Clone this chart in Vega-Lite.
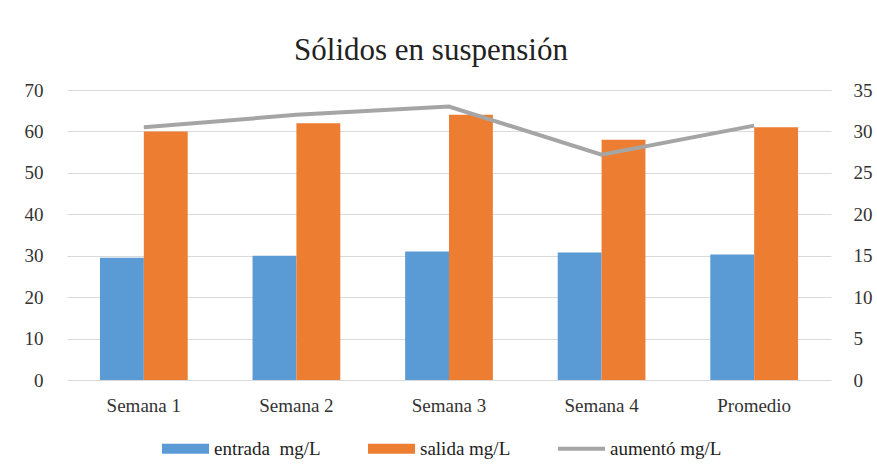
{
  "$schema": "https://vega.github.io/schema/vega-lite/v6.json",
  "autosize": "none",
  "width": 764,
  "height": 290,
  "padding": {"left": 67, "top": 90, "right": 46, "bottom": 96},
  "background": "white",
  "config": {
    "view": {"stroke": null},
    "font": "Liberation Serif",
    "axis": {"labelFont": "Liberation Serif", "labelFontSize": 19, "labelColor": "#333333", "domain": false, "ticks": false, "title": null},
    "legend": {"labelFont": "Liberation Serif", "labelFontSize": 19, "labelColor": "#222222"}
  },
  "title": {
    "text": "Sólidos en suspensión",
    "font": "Liberation Serif",
    "fontSize": 31,
    "fontWeight": "normal",
    "color": "#222222",
    "anchor": "middle",
    "frame": "group",
    "baseline": "alphabetic",
    "offset": 30,
    "dx": -18,
    "dy": 40
  },
  "data": {
    "values": [
      {"semana": "Semana 1", "serie": "entrada\u00a0 mg/L", "valor": 29.5},
      {"semana": "Semana 2", "serie": "entrada\u00a0 mg/L", "valor": 30},
      {"semana": "Semana 3", "serie": "entrada\u00a0 mg/L", "valor": 31},
      {"semana": "Semana 4", "serie": "entrada\u00a0 mg/L", "valor": 30.8},
      {"semana": "Promedio", "serie": "entrada\u00a0 mg/L", "valor": 30.3},
      {"semana": "Semana 1", "serie": "salida mg/L", "valor": 60},
      {"semana": "Semana 2", "serie": "salida mg/L", "valor": 62},
      {"semana": "Semana 3", "serie": "salida mg/L", "valor": 64},
      {"semana": "Semana 4", "serie": "salida mg/L", "valor": 58},
      {"semana": "Promedio", "serie": "salida mg/L", "valor": 61},
      {"semana": "Semana 1", "serie": "aumentó mg/L", "valor": 30.5},
      {"semana": "Semana 2", "serie": "aumentó mg/L", "valor": 32},
      {"semana": "Semana 3", "serie": "aumentó mg/L", "valor": 33},
      {"semana": "Semana 4", "serie": "aumentó mg/L", "valor": 27.2},
      {"semana": "Promedio", "serie": "aumentó mg/L", "valor": 30.7}
    ]
  },
  "layer": [
    {
      "transform": [{"filter": "datum.serie !== 'aumentó mg/L'"}],
      "mark": {"type": "bar"},
      "encoding": {
        "x": {
          "field": "semana",
          "type": "nominal",
          "sort": ["Semana 1", "Semana 2", "Semana 3", "Semana 4", "Promedio"],
          "scale": {"paddingInner": 0.425, "paddingOuter": 0.216},
          "axis": {"labelAngle": 0, "labelPadding": 16, "grid": false}
        },
        "xOffset": {"field": "serie", "type": "nominal", "sort": ["entrada\u00a0 mg/L", "salida mg/L"]},
        "y": {
          "field": "valor",
          "type": "quantitative",
          "scale": {"domain": [0, 70]},
          "axis": {"values": [0, 10, 20, 30, 40, 50, 60, 70], "grid": true, "gridColor": "#D9D9D9", "gridWidth": 1.2, "labelPadding": 24, "orient": "left"}
        },
        "color": {
          "field": "serie",
          "type": "nominal",
          "scale": {"domain": ["entrada\u00a0 mg/L", "salida mg/L", "aumentó mg/L"], "range": ["#5B9BD5", "#ED7D31", "#A5A5A5"]},
          "legend": {
            "orient": "none",
            "direction": "horizontal",
            "legendX": 95,
            "legendY": 335,
            "title": null,
            "padding": 0,
            "columnPadding": 47,
            "labelOffset": 5,
            "symbolSize": 2209,
            "symbolStrokeWidth": 0,
            "encode": {
              "symbols": {
                "update": {
                  "shape": {"signal": "datum.value === 'aumentó mg/L' ? 'M-1,-0.08H1V0.08H-1Z' : 'M-1,-0.213H1V0.213H-1Z'"},
                  "fill": {"scale": "color", "field": "value"},
                  "opacity": {"value": 1},
                  "strokeWidth": {"value": 0}
                }
              }
            }
          }
        }
      }
    },
    {
      "transform": [{"filter": "datum.serie === 'aumentó mg/L'"}],
      "mark": {"type": "line", "strokeWidth": 4},
      "encoding": {
        "x": {"field": "semana", "type": "nominal", "sort": ["Semana 1", "Semana 2", "Semana 3", "Semana 4", "Promedio"]},
        "y": {
          "field": "valor",
          "type": "quantitative",
          "scale": {"domain": [0, 35]},
          "axis": {"orient": "right", "values": [0, 5, 10, 15, 20, 25, 30, 35], "grid": false, "labelPadding": 22}
        },
        "color": {"field": "serie", "type": "nominal"}
      }
    }
  ],
  "resolve": {"scale": {"y": "independent"}}
}
